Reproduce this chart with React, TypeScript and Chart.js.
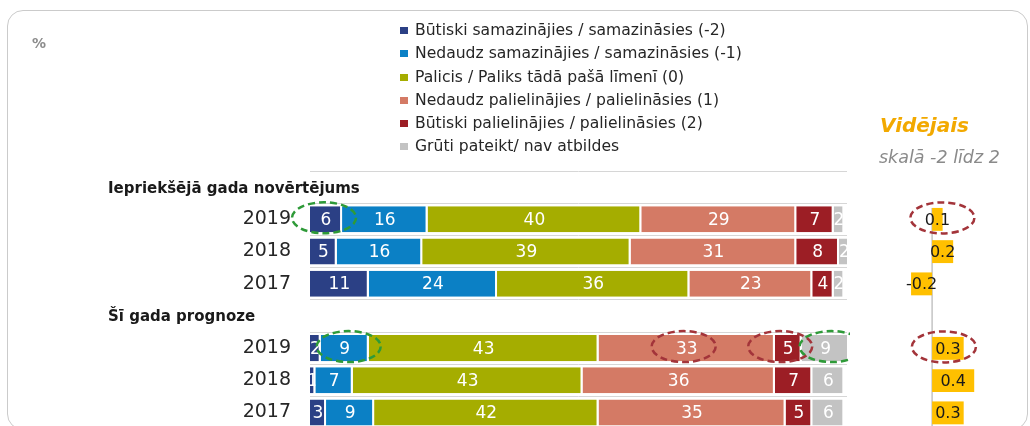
import React, { useEffect, useRef } from 'react';
import { Chart, registerables } from 'chart.js';

Chart.register(...registerables);

const FONT = '"DejaVu Sans", "Liberation Sans", sans-serif';

// ---- data ----
const sectionHeaders = ['Iepriekšējā gada novērtējums', 'Šī gada prognoze'];
const categories = ['Iepriekšējā gada novērtējums', '2019', '2018', '2017', 'Šī gada prognoze', '2019', '2018', '2017'];

const seriesLabels = [
  'Būtiski samazinājies / samazināsies (-2)',
  'Nedaudz samazinājies / samazināsies (-1)',
  'Palicis / Paliks tādā pašā līmenī (0)',
  'Nedaudz palielinājies / palielināsies (1)',
  'Būtiski palielinājies / palielināsies (2)',
  'Grūti pateikt/ nav atbildes',
];
const decreasedMuch = [null, 6, 5, 11, null, 2, 1, 3];
const decreasedLittle = [null, 16, 16, 24, null, 9, 7, 9];
const unchanged = [null, 40, 39, 36, null, 43, 43, 42];
const increasedLittle = [null, 29, 31, 23, null, 33, 36, 35];
const increasedMuch = [null, 7, 8, 4, null, 5, 7, 5];
const hardToSay = [null, 2, 2, 2, null, 9, 6, 6];
const averages = [null, 0.1, 0.2, -0.2, null, 0.3, 0.4, 0.3];

const averageTitle = 'Vidējais';
const averageSubtitle = 'skalā -2 līdz 2';
const unitLabel = '%';

// ---- styles ----
const seriesColors = ['#2B4085', '#0B80C5', '#A5AD00', '#D47A65', '#9C1E25', '#C3C3C3'];
const avgColor = '#FFC000';
const GREEN = '#2E9A38';
const RED = '#A3343A';

// highlight ellipses (series index, row index, colour, horizontal nudge)
const barHighlights = [
  { series: 0, row: 1, color: GREEN, dx: -2 },
  { series: 1, row: 5, color: GREEN, dx: 4 },
  { series: 5, row: 5, color: GREEN, dx: 6 },
  { series: 3, row: 5, color: RED, dx: -3 },
  { series: 4, row: 5, color: RED, dx: -8 },
];
const avgHighlights = [
  { row: 1, color: RED, dx: 5 },
  { row: 5, color: RED, dx: -4 },
];

function drawEllipse(ctx: CanvasRenderingContext2D, cx: number, cy: number, color: string) {
  ctx.save();
  ctx.strokeStyle = color;
  ctx.lineWidth = 2.5;
  ctx.setLineDash([7, 4]);
  ctx.beginPath();
  ctx.ellipse(cx, cy, 32, 15.5, 0, 0, Math.PI * 2);
  ctx.stroke();
  ctx.restore();
}

const barValueLabels = {
  id: 'barValueLabels',
  afterDatasetsDraw(chart: any) {
    const ctx = chart.ctx as CanvasRenderingContext2D;
    chart.data.datasets.forEach((ds: any, di: number) => {
      const meta = chart.getDatasetMeta(di);
      meta.data.forEach((el: any, i: number) => {
        const v = ds.data[i];
        if (v == null) return;
        const { x, y, base, height } = el.getProps(['x', 'y', 'base', 'height'], true);
        const l = Math.min(x, base);
        const r = Math.max(x, base);
        ctx.save();
        ctx.beginPath();
        ctx.rect(l, y - height / 2, r - l, height);
        ctx.clip();
        ctx.fillStyle = '#ffffff';
        ctx.font = `17px ${FONT}`;
        ctx.textAlign = 'center';
        ctx.textBaseline = 'middle';
        ctx.fillText(String(v), (l + r) / 2, y + 1);
        ctx.restore();
      });
    });
  },
  afterDraw(chart: any) {
    const ctx = chart.ctx as CanvasRenderingContext2D;
    const ys = chart.scales.y;
    ctx.save();
    ctx.fillStyle = '#1a1a1a';
    ctx.font = `bold 15px ${FONT}`;
    ctx.textAlign = 'left';
    ctx.textBaseline = 'alphabetic';
    categories.forEach((c, i) => {
      if (sectionHeaders.includes(c)) ctx.fillText(c, 108, ys.getPixelForValue(i) + 5.5);
    });
    ctx.restore();
    barHighlights.forEach((h) => {
      const el: any = chart.getDatasetMeta(h.series).data[h.row];
      if (!el) return;
      const { x, y, base } = el.getProps(['x', 'y', 'base'], true);
      drawEllipse(ctx, (x + base) / 2 + h.dx, y - 1.5, h.color);
    });
  },
};

const avgPlugin = {
  id: 'avgPlugin',
  beforeDatasetsDraw(chart: any) {
    const ctx = chart.ctx as CanvasRenderingContext2D;
    const x0 = chart.scales.x.getPixelForValue(0);
    const meta = chart.getDatasetMeta(0);
    const first = averages.findIndex((v) => v != null);
    const el: any = meta.data[first];
    const { y, height } = el.getProps(['y', 'height'], true);
    ctx.save();
    ctx.strokeStyle = '#c4c4c4';
    ctx.lineWidth = 1.5;
    ctx.beginPath();
    ctx.moveTo(x0, y - height / 2);
    ctx.lineTo(x0, chart.chartArea.bottom);
    ctx.stroke();
    ctx.restore();
  },
  afterDatasetsDraw(chart: any) {
    const ctx = chart.ctx as CanvasRenderingContext2D;
    const meta = chart.getDatasetMeta(0);
    ctx.save();
    ctx.fillStyle = '#1a1a1a';
    ctx.font = `16px ${FONT}`;
    ctx.textAlign = 'center';
    ctx.textBaseline = 'middle';
    meta.data.forEach((el: any, i: number) => {
      const v = averages[i];
      if (v == null) return;
      const { x, y, base } = el.getProps(['x', 'y', 'base'], true);
      ctx.fillText(String(v), (x + base) / 2, y + 1);
    });
    ctx.restore();
  },
  afterDraw(chart: any) {
    const ctx = chart.ctx as CanvasRenderingContext2D;
    const meta = chart.getDatasetMeta(0);
    avgHighlights.forEach((h) => {
      const el: any = meta.data[h.row];
      if (!el) return;
      const { x, y, base } = el.getProps(['x', 'y', 'base'], true);
      drawEllipse(ctx, (x + base) / 2 + h.dx, y - 1.5, h.color);
    });
  },
};

export default function App() {
  const refA = useRef<HTMLCanvasElement>(null);
  const refB = useRef<HTMLCanvasElement>(null);

  useEffect(() => {
    Chart.defaults.font.family = FONT;
    const seriesData = [decreasedMuch, decreasedLittle, unchanged, increasedLittle, increasedMuch, hardToSay];
    const chartA = new Chart(refA.current as HTMLCanvasElement, {
      type: 'bar',
      data: {
        labels: categories,
        datasets: seriesData.map((d, i) => ({
          label: seriesLabels[i],
          data: d,
          backgroundColor: seriesColors[i],
          borderColor: '#ffffff',
          borderWidth: { top: 0, left: 0, bottom: 0, right: 2 },
          borderSkipped: 'start',
          stack: 'a',
          barPercentage: 0.81,
          categoryPercentage: 1,
        })),
      } as any,
      options: {
        indexAxis: 'y',
        animation: false,
        responsive: false,
        layout: { padding: { top: 171, bottom: 30, left: 0, right: 3 } },
        events: [],
        scales: {
          x: { display: false, stacked: true, min: 0, max: 100.5 },
          y: {
            type: 'category',
            stacked: true,
            offset: true,
            border: { display: false },
            grid: { display: true, offset: true, drawTicks: false, color: '#d6d6d6', lineWidth: 1 },
            ticks: {
              padding: 19,
              color: '#262626',
              font: { size: 19, family: FONT },
              callback: (_v: any, i: number) => (sectionHeaders.includes(categories[i]) ? '' : categories[i]),
            },
            afterFit: (s: any) => {
              s.width = 310;
            },
          },
        },
        plugins: { legend: { display: false }, tooltip: { enabled: false }, title: { display: false } },
      } as any,
      plugins: [barValueLabels],
    });

    const chartB = new Chart(refB.current as HTMLCanvasElement, {
      type: 'bar',
      data: {
        labels: categories,
        datasets: [
          {
            label: averageTitle,
            data: averages,
            backgroundColor: avgColor,
            barPercentage: 0.71,
            categoryPercentage: 1,
          },
        ],
      } as any,
      options: {
        indexAxis: 'y',
        animation: false,
        responsive: false,
        events: [],
        layout: { padding: { top: 171, bottom: 11, left: 0, right: 0 } },
        scales: {
          x: { display: false, min: -0.78, max: 0.93 },
          y: { type: 'category', display: false, offset: true },
        },
        plugins: { legend: { display: false }, tooltip: { enabled: false } },
      } as any,
      plugins: [avgPlugin],
    });

    return () => {
      chartA.destroy();
      chartB.destroy();
    };
  }, []);

  return (
    <div
      style={{
        position: 'fixed',
        left: 0,
        top: 0,
        width: 1030,
        height: 426,
        overflow: 'hidden',
        background: '#ffffff',
        fontFamily: FONT,
      }}
    >
      <div
        style={{
          position: 'absolute',
          left: 7,
          top: 10,
          width: 1021,
          height: 420,
          border: '1.5px solid #cbcbcb',
          borderRadius: 16,
          boxSizing: 'border-box',
        }}
      />
      <canvas ref={refA} width={850} height={459} style={{ position: 'absolute', left: 0, top: 0, display: 'block' }} />
      <canvas ref={refB} width={180} height={440} style={{ position: 'absolute', left: 850, top: 0, display: 'block' }} />
      <div
        style={{
          position: 'absolute',
          left: 32,
          top: 36,
          fontSize: 14,
          lineHeight: '14px',
          fontWeight: 'bold',
          color: '#8c8c8c',
        }}
      >
        {unitLabel}
      </div>
      <div style={{ position: 'absolute', left: 400, top: 19.2 }}>
        {seriesLabels.map((l, i) => (
          <div key={l} style={{ display: 'flex', alignItems: 'center', height: 23.2, whiteSpace: 'nowrap' }}>
            <span style={{ display: 'inline-block', width: 8, height: 7, background: seriesColors[i], marginRight: 7 }} />
            <span style={{ fontSize: 15.6, lineHeight: '23.2px', color: '#262626' }}>{l}</span>
          </div>
        ))}
      </div>
      <div
        style={{
          position: 'absolute',
          left: 880,
          top: 115,
          fontSize: 20,
          lineHeight: '20px',
          fontWeight: 'bold',
          fontStyle: 'italic',
          color: '#F2A900',
          whiteSpace: 'nowrap',
        }}
      >
        {averageTitle}
      </div>
      <div
        style={{
          position: 'absolute',
          left: 879,
          top: 149.3,
          fontSize: 17.5,
          lineHeight: '17.5px',
          fontStyle: 'italic',
          color: '#8a8a8a',
          whiteSpace: 'nowrap',
        }}
      >
        {averageSubtitle}
      </div>
    </div>
  );
}
